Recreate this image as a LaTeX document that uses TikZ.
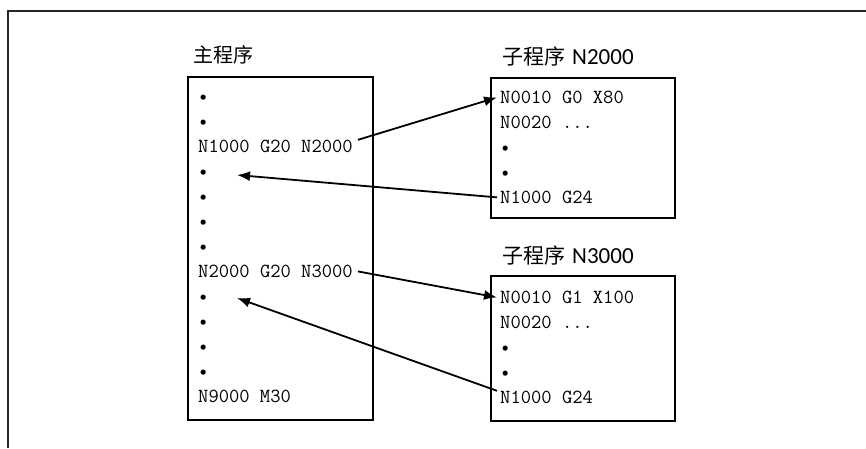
\documentclass[tikz,border=0pt]{standalone}
\usepackage{fontspec}
\newfontfamily\cjk{Noto Sans CJK SC}
\newfontfamily\lat{Carlito}
\usetikzlibrary{arrows.meta}
\begin{document}
\begin{tikzpicture}[x=1pt,y=-1pt,
  code/.style={anchor=base west,inner sep=0pt,font=\ttfamily\fontsize{20}{20}\selectfont},
  ttl/.style={anchor=west,inner sep=0pt},
  link/.style={line width=1.8pt,-{Latex[length=13pt,width=10pt]}},
  box/.style={line width=2pt}]
  \useasboundingbox (0,0) rectangle (866,448);
  % outer frame
  \draw[line width=2pt,black!85] (8,448) -- (8,11) -- (866,11);
  % titles
  \node[ttl] (tmain) at (193,55) {\cjk\fontsize{20}{20}\selectfont 主程序};
  \node[ttl] (tsub1) at (502,56) {\cjk\fontsize{21}{21}\selectfont 子程序\hspace{7pt}\lat\fontsize{23}{23}\selectfont N2000};
  \node[ttl] (tsub2) at (502,255) {\cjk\fontsize{21}{21}\selectfont 子程序\hspace{7pt}\lat\fontsize{23}{23}\selectfont N3000};
  % boxes
  \draw[box] (188,77) rectangle (373,420);
  \draw[box] (491,78) rectangle (675,218);
  \draw[box] (491,276) rectangle (675,421);
  % main program
  \node[code] (m1) at (198,102.5) {•};
  \node[code] (m2) at (198,127.5) {•};
  \node[code] (m3) at (198,152.5) {N1000 G20 N2000};
  \node[code] (m4) at (198,177.5) {•};
  \node[code] (m5) at (198,202.5) {•};
  \node[code] (m6) at (198,227.5) {•};
  \node[code] (m7) at (198,252.5) {•};
  \node[code] (m8) at (198,277.5) {N2000 G20 N3000};
  \node[code] (m9) at (198,302.5) {•};
  \node[code] (m10) at (198,327.5) {•};
  \node[code] (m11) at (198,352.5) {•};
  \node[code] (m12) at (198,377.5) {•};
  \node[code] (m13) at (198,402.5) {N9000 M30};
  % subprogram N2000
  \node[code] (s1a) at (500,103.5) {N0010 G0 X80};
  \node[code] (s1b) at (500,128.5) {N0020 ...};
  \node[code] (s1c) at (500,153.5) {•};
  \node[code] (s1d) at (500,178.5) {•};
  \node[code] (s1e) at (500,203.5) {N1000 G24};
  % subprogram N3000
  \node[code] (s2a) at (500,303.5) {N0010 G1 X100};
  \node[code] (s2b) at (500,328.5) {N0020 ...};
  \node[code] (s2c) at (500,353.5) {•};
  \node[code] (s2d) at (500,378.5) {•};
  \node[code] (s2e) at (500,403.5) {N1000 G24};
  % return points
  \coordinate (ret1) at (237,175);
  \coordinate (ret2) at (237,298);
  % calls and returns
  \draw[link] ([xshift=5pt]m3.north east) -- ([xshift=-3pt]s1a.west);
  \draw[link] ([xshift=-3pt]s1e.west) -- (ret1);
  \draw[link] ([xshift=5pt]m8.east) -- ([xshift=-3pt]s2a.west);
  \draw[link] ([xshift=-3pt]s2e.north west) -- (ret2);
\end{tikzpicture}
\end{document}
